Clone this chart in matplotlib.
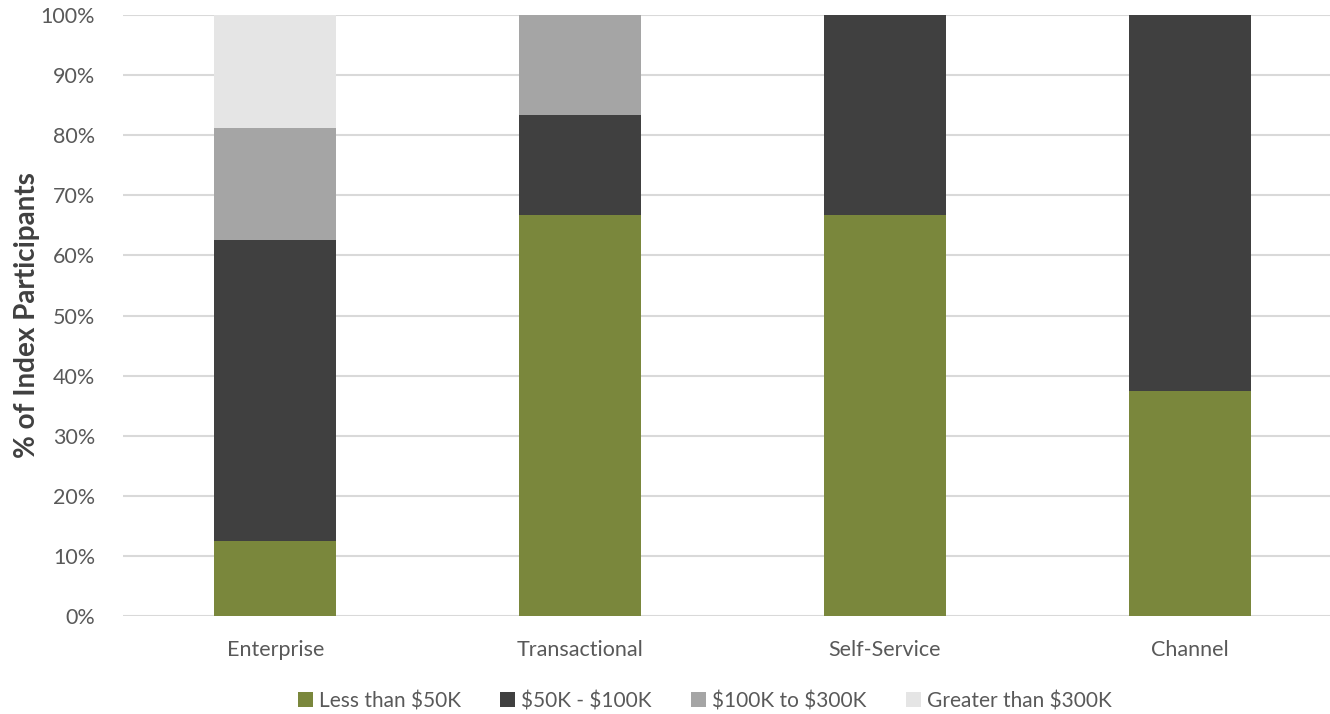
import matplotlib.pyplot as plt
import numpy as np

plt.rcParams['font.family'] = ['Lato', 'DejaVu Sans']

categories = ['Enterprise', 'Transactional', 'Self-Service', 'Channel']
series_names = ['Less than \\$50K', '\\$50K - \\$100K', '\\$100K to \\$300K', 'Greater than \\$300K']
less_50k = [12.5, 66.67, 66.67, 37.5]
k50_100k = [50.0, 16.67, 33.33, 62.5]
k100_300k = [18.75, 16.66, 0, 0]
over_300k = [18.75, 0, 0, 0]
colors = ['#7A873C', '#404040', '#A5A5A5', '#E5E5E5']

fig = plt.figure(figsize=(13.3, 7.14), dpi=100)
ax = fig.add_axes([123 / 1330, 1 - 616 / 714, (1342 - 123) / 1330, (616 - 15) / 714])

x = np.arange(len(categories))
bottom = np.zeros(len(categories))
for vals, name, c in zip([less_50k, k50_100k, k100_300k, over_300k], series_names, colors):
    ax.bar(x, vals, 0.4, bottom=bottom, color=c, label=name, zorder=3)
    bottom += np.array(vals)

ax.set_xlim(-0.5, 3.5)
ax.set_ylim(0, 100)
ax.set_yticks(np.arange(0, 101, 10))
ax.set_yticklabels([f'{v}%' for v in range(0, 101, 10)])
ax.set_xticks(x)
ax.set_xticklabels(categories)
ax.tick_params(axis='both', length=0, labelsize=15.5, colors='#595959')
ax.tick_params(axis='x', pad=17)
ax.tick_params(axis='y', pad=20)
ax.grid(axis='y', color='#D9D9D9', linewidth=1.5, zorder=0)
for s in ax.spines.values():
    s.set_visible(False)

ax.set_ylabel('% of Index Participants', fontsize=20, fontweight='bold', color='#404040')
ax.yaxis.set_label_coords(-0.068, 0.5)

fig.legend(loc='center', bbox_to_anchor=(0.53, 1 - 701 / 714), ncol=4, frameon=False,
           fontsize=15, labelcolor='#595959', handlelength=0.7, handleheight=0.7,
           handletextpad=0.3, columnspacing=1.9)

fig.savefig('out.png', dpi=100)
